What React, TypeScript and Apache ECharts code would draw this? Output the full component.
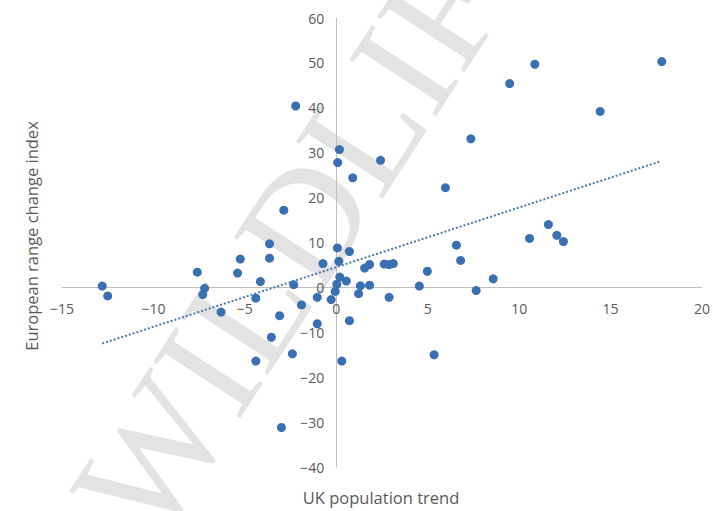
import React, { useEffect, useRef } from "react";
import * as echarts from "echarts";

const ukTrend: number[] = [
  -12.8, -12.5, -7.6, -7.2, -7.3, -6.3, -5.4, -5.25, -4.4, -4.15, -4.4, -3.65, -3.65, -3.55, -3.1, -3.0,
  -2.87, -2.4, -2.33, -2.22, -1.9, -1.04, -1.04, -0.73, -0.28, -0.06, 0.03, 0.08, 0.17, 0.06, 0.14, 0.19,
  0.3, 0.55, 0.72, 0.72, 0.9, 1.22, 1.32, 1.55, 1.82, 1.82, 2.42, 2.62, 2.89, 3.12, 2.89, 4.54,
  4.98, 5.35, 5.97, 6.57, 6.8, 7.36, 7.65, 8.58, 9.48, 10.57, 10.86, 11.6, 12.06, 12.42, 14.43, 17.8,
];
const europeIndex: number[] = [
  0.3, -1.9, 3.4, -0.2, -1.6, -5.5, 3.2, 6.3, -2.4, 1.3, -16.4, 9.7, 6.5, -11.1, -6.3, -31.2,
  17.2, -14.8, 0.6, 40.4, -3.9, -2.2, -8.1, 5.3, -2.7, -0.9, 0.7, 27.8, 30.7, 8.8, 5.8, 2.3,
  -16.4, 1.4, 8.0, -7.4, 24.4, -1.4, 0.35, 4.3, 5.1, 0.5, 28.3, 5.2, 5.1, 5.3, -2.2, 0.3,
  3.6, -15.0, 22.2, 9.4, 6.0, 33.1, -0.7, 1.9, 45.4, 10.9, 49.7, 14.0, 11.6, 10.2, 39.2, 50.3,
];
const trendX: number[] = [-12.8, 17.75];
const trendY: number[] = [-12.5, 28.1];
const xTicks = { min: -15, max: 20, step: 5 };
const yTicks = { min: -40, max: 60, step: 10 };
const xTitle = "UK population trend";
const yTitle = "European range change index";
const watermark = "WILDLIFE";

const fmt = (v: number) => (v < 0 ? "\u2212" + Math.abs(v) : String(v));

export default function App() {
  const ref = useRef<HTMLDivElement>(null);
  useEffect(() => {
    if (!ref.current) return;
    const chart = echarts.init(ref.current, undefined, { renderer: "svg" });
    const font = "'Open Sans', 'Noto Sans', sans-serif";
    const textColor = "#595959";
    chart.setOption({
      animation: false,
      backgroundColor: "#ffffff",
      grid: { left: 62, right: 7, top: 18, bottom: 44, containLabel: false },
      xAxis: {
        type: "value",
        min: xTicks.min,
        max: xTicks.max,
        interval: xTicks.step,
        axisLine: { onZero: false, lineStyle: { color: "#bfbfbf", width: 1 } },
        axisTick: { show: false },
        splitLine: { show: false },
        axisLabel: { formatter: fmt, color: textColor, fontFamily: font, fontSize: 14, margin: 14 },
      },
      yAxis: {
        type: "value",
        min: yTicks.min,
        max: yTicks.max,
        interval: yTicks.step,
        axisLine: { show: true, onZero: false, lineStyle: { color: "#bfbfbf", width: 1 } },
        axisTick: { show: false },
        splitLine: { show: false },
        axisLabel: { formatter: fmt, color: textColor, fontFamily: font, fontSize: 14, margin: 12 },
      },
      graphic: [
        {
          type: "text",
          z: -10,
          x: 314,
          y: 206,
          rotation: (57 * Math.PI) / 180,
          silent: true,
          style: {
            text: watermark,
            fill: "#e3e3e3",
            font: "158px 'Liberation Serif', 'DejaVu Serif', serif",
            align: "center",
            verticalAlign: "middle",
          },
        },
        {
          type: "text",
          x: 31,
          y: 236,
          rotation: Math.PI / 2,
          style: {
            text: yTitle,
            fill: textColor,
            font: `16.5px ${font}`,
            align: "center",
            verticalAlign: "middle",
          },
        },
        {
          type: "text",
          x: 381,
          y: 497,
          style: {
            text: xTitle,
            fill: textColor,
            font: `16.5px ${font}`,
            align: "center",
            verticalAlign: "middle",
          },
        },
      ],
      series: [
        {
          type: "line",
          data: trendX.map((x, i) => [x, trendY[i]]),
          symbol: "none",
          lineStyle: { color: "#4a78b2", width: 2, type: [2, 2] },
          z: 3,
        },
        {
          type: "scatter",
          data: ukTrend.map((x, i) => [x, europeIndex[i]]),
          symbolSize: 9,
          itemStyle: { color: "#3a70b2", opacity: 1 },
          z: 4,
        },
      ],
    });
    // move axes (line + labels) to cross at zero
    const origin = chart.convertToPixel({ gridIndex: 0 }, [0, 0]) as number[];
    const corner = chart.convertToPixel({ gridIndex: 0 }, [xTicks.min, yTicks.min]) as number[];
    chart.setOption({
      xAxis: { offset: origin[1] - corner[1] },
      yAxis: { offset: corner[0] - origin[0] },
    });
    return () => chart.dispose();
  }, []);
  return <div ref={ref} style={{ width: 713, height: 511, position: "absolute", left: 0, top: 0 }} />;
}
